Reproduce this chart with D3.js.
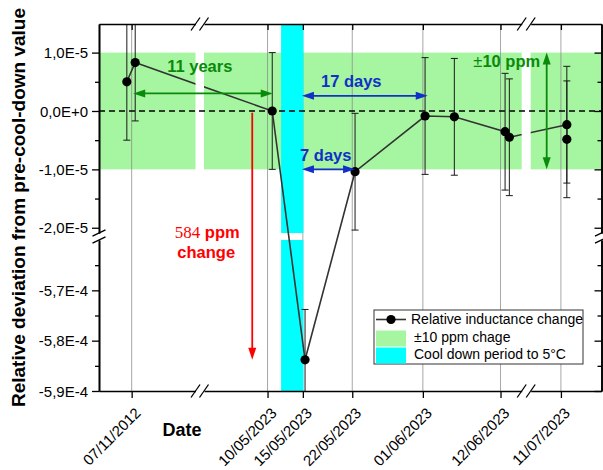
<!DOCTYPE html>
<html><head><meta charset="utf-8">
<script src="https://cdn.jsdelivr.net/npm/d3@7"></script>
<style>
body{margin:0;background:#fff}
svg{display:block;font-family:"Liberation Sans",Arial,sans-serif}
</style>
</head><body>
<svg id="chart" width="603" height="470"></svg>
<script>
// ---------------- DATA ----------------
const pointDates = ["2012-11-06T07:40","2012-11-07T12:00","2023-05-10T16:00","2023-05-15T07:30","2023-05-22T09:30",
                    "2023-06-01T07:30","2023-06-05T11:00","2023-06-12T15:30","2023-06-13T06:00","2023-07-11T20:00","2023-07-11T20:00"];
const pointValues = [0.50e-5, 0.83e-5, 0, -5.838e-4, -1.04e-5, -0.086e-5, -0.10e-5, -0.355e-5, -0.45e-5, -0.235e-5, -0.485e-5];
const pointErrors = [1.0e-5, 1.0e-5, 1.0e-5, 1.0e-5, 1.0e-5, 1.0e-5, 1.0e-5, 1.0e-5, 1.0e-5, 1.0e-5, 1.0e-5];
const xTickLabels = ["07/11/2012","10/05/2023","15/05/2023","22/05/2023","01/06/2023","12/06/2023","11/07/2023"];
const yUpperTicks = [1e-5, 0, -1e-5, -2e-5];
const yUpperTickLabels = ["1,0E-5","0,0E+0","-1,0E-5","-2,0E-5"];
const yUpperMinor = [0.5e-5, -0.5e-5, -1.5e-5];
const yLowerTicks = [-5.7e-4, -5.8e-4, -5.9e-4];
const yLowerTickLabels = ["-5,7E-4","-5,8E-4","-5,9E-4"];
const yLowerMinor = [-5.65e-4, -5.75e-4, -5.85e-4];
const bandLimit = 1.0e-5;                       // ±10 ppm
const coolDown = ["2023-05-11T22:00","2023-05-15T02:00"];
const legendLabels = ["Relative inductance change","\u00b110 ppm chage","Cool down period to 5\u00b0C"];
const xSegDomains = [["2012-11-02T09:30","2012-11-16T00:00"],["2023-05-01T00:00","2023-06-15T00:00"],["2023-07-06T18:00","2023-07-16T17:00"]];
const yUpperDomain = [-2.09e-5, 1.49e-5];
const yLowerDomain = [-5.9e-4, -5.6e-4];

// ---------------- LAYOUT ----------------
const L = 99, R = 601.5, T = 24, B = 391;
const xSegRanges = [[L,195.5],[204,521.7],[530.7,R]];
const yUpperRange = [233, T], yLowerRange = [B, 240];
const GREEN_BAND = "#a6f5a0", CYAN = "#00ffff", DKGREEN = "#0a8a0a", BLUE = "#1030c8", RED = "#ff0000";

const parseISO = d3.isoParse;
const parseDMY = d3.timeParse("%d/%m/%Y");
const svg = d3.select("#chart");

const xSegs = xSegDomains.map((dm,i)=>d3.scaleTime().domain(dm.map(parseISO)).range(xSegRanges[i]));
function segOf(d){ for(const s of xSegs){ const [a,b]=s.domain(); if(d>=a && d<=b) return s; } return xSegs[0]; }
const fx = d => { const dt = (d instanceof Date)? d : parseISO(d); return segOf(dt)(dt); };
const yU = d3.scaleLinear().domain(yUpperDomain).range(yUpperRange);
const yL = d3.scaleLinear().domain(yLowerDomain).range(yLowerRange);
const fy = v => v > -3e-5 ? yU(v) : yL(v);

const points = pointDates.map((d,i)=>({date:parseISO(d), value:pointValues[i], err:pointErrors[i]}));
const tickDates = xTickLabels.map(parseDMY);

// clip paths
const defs = svg.append("defs");
defs.append("clipPath").attr("id","plotclip").append("rect").attr("x",L).attr("y",T).attr("width",R-L).attr("height",B-T);
xSegRanges.forEach((r,i)=>{
  defs.append("clipPath").attr("id","seg"+i).append("rect").attr("x",r[0]).attr("y",T).attr("width",r[1]-r[0]).attr("height",B-T);
});

const plot = svg.append("g").attr("clip-path","url(#plotclip)");

// green ±10 ppm band per x segment
plot.append("g").selectAll("rect").data(xSegs).join("rect")
  .attr("x", s=>s.range()[0]).attr("width", s=>s.range()[1]-s.range()[0])
  .attr("y", yU(bandLimit)).attr("height", yU(-bandLimit)-yU(bandLimit))
  .attr("fill", GREEN_BAND);

// vertical grid lines
plot.append("g").selectAll("line").data(tickDates).join("line")
  .attr("x1", d=>fx(d)).attr("x2", d=>fx(d)).attr("y1", T).attr("y2", B)
  .attr("stroke","#8a8a8a").attr("stroke-opacity",0.75).attr("stroke-width",1);

// cool-down band (upper and lower y segments)
const cx0 = fx(coolDown[0]), cx1 = fx(coolDown[1]);
[[yUpperRange[1], yUpperRange[0]],[yLowerRange[1], yLowerRange[0]]].forEach(([y0,y1])=>{
  plot.append("rect").attr("x",cx0).attr("width",cx1-cx0).attr("y",y0).attr("height",y1-y0).attr("fill",CYAN);
});

// zero dashed reference line
plot.append("line").attr("x1",L).attr("x2",R).attr("y1",yU(0)).attr("y2",yU(0))
  .attr("stroke","#000").attr("stroke-width",1.3).attr("stroke-dasharray","6,4");

// error bars
const eb = plot.append("g").attr("stroke","#1a1a1a").attr("stroke-width",1);
points.forEach(p=>{
  const x = fx(p.date);
  const scale = p.value > -3e-5 ? yU : yL;
  const y1 = scale(p.value + p.err), y2 = scale(p.value - p.err);
  eb.append("line").attr("x1",x).attr("x2",x).attr("y1",y1).attr("y2",y2);
  eb.append("line").attr("x1",x-3.5).attr("x2",x+3.5).attr("y1",y1).attr("y2",y1);
  eb.append("line").attr("x1",x-3.5).attr("x2",x+3.5).attr("y1",y2).attr("y2",y2);
});

// data line, broken at x axis breaks
const lineGen = d3.line().x(p=>fx(p.date)).y(p=>fy(p.value));
xSegRanges.forEach((r,i)=>{
  plot.append("path").datum(points).attr("d",lineGen).attr("fill","none")
    .attr("stroke","#333").attr("stroke-width",1.6).attr("clip-path","url(#seg"+i+")");
});
plot.append("g").selectAll("circle").data(points).join("circle")
  .attr("cx",p=>fx(p.date)).attr("cy",p=>fy(p.value)).attr("r",4.6).attr("fill","#000");

// ---------------- ANNOTATIONS ----------------
function arrow(g,x1,y1,x2,y2,color,both){
  const hl=12, hw=4;
  const dx=x2-x1, dy=y2-y1, len=Math.hypot(dx,dy), ux=dx/len, uy=dy/len, px=-uy, py=ux;
  const sx = both? x1+ux*hl*0.8 : x1, sy = both? y1+uy*hl*0.8 : y1;
  const ex = x2-ux*hl*0.8, ey = y2-uy*hl*0.8;
  g.append("line").attr("x1",sx).attr("y1",sy).attr("x2",ex).attr("y2",ey).attr("stroke",color).attr("stroke-width",1.8);
  const head=(tx,ty,dirx,diry)=>{
    const bx=tx-dirx*hl, by=ty-diry*hl;
    g.append("path").attr("d",`M${tx},${ty}L${bx+px*hw},${by+py*hw}L${bx-px*hw},${by-py*hw}Z`).attr("fill",color);
  };
  head(x2,y2,ux,uy);
  if(both) head(x1,y1,-ux,-uy);
}
const ann = svg.append("g");
// 11 years
arrow(ann, fx(points[1].date)-2, yU(0.3e-5), fx(points[2].date)+0.5, yU(0.3e-5), DKGREEN, true);
ann.append("text").attr("x",(xSegRanges[0][1]+xSegRanges[1][0])/2).attr("y",yU(0.67e-5)).attr("text-anchor","middle")
  .attr("font-size",16.5).attr("font-weight","bold").attr("fill",DKGREEN).text("11 years");
// 17 days
arrow(ann, cx1-1.5, yU(0.26e-5), fx(points[5].date)+2.7, yU(0.26e-5), BLUE, true);
ann.append("text").attr("x",fx("2023-05-22T00:00")-1).attr("y",yU(0.41e-5)).attr("text-anchor","middle")
  .attr("font-size",16.5).attr("font-weight","bold").attr("fill",BLUE).text("17 days");
// 7 days
arrow(ann, cx1-1.5, yU(-1e-5), fx(points[4].date), yU(-1e-5), BLUE, true);
ann.append("text").attr("x",fx("2023-05-18T06:00")).attr("y",yU(-0.86e-5)).attr("text-anchor","middle")
  .attr("font-size",16.5).attr("font-weight","bold").attr("fill",BLUE).text("7 days");
// ±10 ppm
const gx = fx("2023-07-09T00:00");
arrow(ann, gx, yU(bandLimit), gx, yU(-bandLimit), DKGREEN, true);
const tp = ann.append("text").attr("x",gx-6.5).attr("y",yU(0.76e-5)).attr("text-anchor","end").attr("font-size",16.5).attr("fill",DKGREEN);
tp.append("tspan").text("\u00b1");
tp.append("tspan").attr("font-weight","bold").text("10 ppm");
// 584 ppm change
const rx = fx("2023-05-07T20:00");
arrow(ann, rx, yU(-0.03e-5), rx, fy(points[3].value), RED, false);
const rt = ann.append("text").attr("x",rx-45).attr("y",yL(yLowerDomain[1])-2).attr("text-anchor","middle").attr("fill",RED);
rt.append("tspan").attr("font-family","'Liberation Serif','Times New Roman',serif").attr("font-size",17).text("584");
rt.append("tspan").attr("font-size",16.5).attr("font-weight","bold").text(" ppm");
ann.append("text").attr("x",rx-46).attr("y",yL(-5.636e-4)).attr("text-anchor","middle").attr("fill",RED)
  .attr("font-size",16.5).attr("font-weight","bold").text("change");

// ---------------- AXES ----------------
const axes = svg.append("g");
function styleAxis(g){
  g.select(".domain").attr("stroke","#000").attr("stroke-width",1.6);
  g.selectAll(".tick line").attr("stroke","#000").attr("stroke-width",1.3);
  g.selectAll("text").attr("font-family","'Liberation Sans',Arial,sans-serif").attr("font-size",15).attr("fill","#000");
}
xSegs.forEach(s=>{
  const [a,b]=s.domain();
  const tv = tickDates.filter(d=>d>=a && d<=b);
  axes.append("g").attr("transform",`translate(0,${B})`)
    .call(d3.axisBottom(s).tickValues(tv).tickSize(7).tickSizeOuter(0).tickFormat("")).call(styleAxis);
  axes.append("g").attr("transform",`translate(0,${T})`)
    .call(d3.axisTop(s).tickValues(tv).tickSize(-6).tickSizeOuter(0).tickFormat("")).call(styleAxis);
});
// x tick labels rotated
const fmt = d3.timeFormat("%d/%m/%Y");
axes.append("g").selectAll("text").data(tickDates).join("text")
  .attr("transform", d=>`translate(${fx(d)+10},${B+23}) rotate(-45)`)
  .attr("text-anchor","end").attr("font-size",15).text(d=>fmt(d));

[[yU,yUpperTicks,yUpperTickLabels,yUpperMinor],[yL,yLowerTicks,yLowerTickLabels,yLowerMinor]].forEach(([sc,tv,lab,mn])=>{
  axes.append("g").attr("transform",`translate(${L},0)`)
    .call(d3.axisLeft(sc).tickValues(tv).tickSize(7).tickPadding(4).tickSizeOuter(0).tickFormat((d,i)=>lab[i])).call(styleAxis);
  axes.append("g").attr("transform",`translate(${L},0)`)
    .call(d3.axisLeft(sc).tickValues(mn).tickSize(4).tickSizeOuter(0).tickFormat("")).call(styleAxis);
  axes.append("g").attr("transform",`translate(${R},0)`)
    .call(d3.axisRight(sc).tickValues(tv).tickSize(-7).tickSizeOuter(0).tickFormat("")).call(styleAxis);
  axes.append("g").attr("transform",`translate(${R},0)`)
    .call(d3.axisRight(sc).tickValues(mn).tickSize(-4).tickSizeOuter(0).tickFormat("")).call(styleAxis);
});
axes.selectAll(".tick text").attr("dy","0.34em");

// break marks
const brk = axes.append("g").attr("stroke","#000").attr("stroke-width",1.3);
[xSegRanges[0][1], xSegRanges[1][0], xSegRanges[1][1], xSegRanges[2][0]].forEach(x=>{
  [B,T].forEach(y=>brk.append("line").attr("x1",x-4.5).attr("y1",y+6.5).attr("x2",x+4.5).attr("y2",y-6.5));
});
[yUpperRange[0], yLowerRange[1]].forEach(y=>{
  [L,R].forEach(x=>brk.append("line").attr("x1",x-6.5).attr("y1",y+3.2).attr("x2",x+6.5).attr("y2",y-3.2));
});

// axis titles
svg.append("text").attr("transform",`translate(25,${(8+407)/2}) rotate(-90)`).attr("text-anchor","middle")
  .attr("font-size",19).attr("font-weight","bold").text("Relative deviation from pre-cool-down value");
svg.append("text").attr("x",182).attr("y",436).attr("text-anchor","middle")
  .attr("font-size",18).attr("font-weight","bold").text("Date");

// ---------------- LEGEND ----------------
const lg = svg.append("g").attr("transform","translate(374,310)");
lg.append("rect").attr("width",209).attr("height",54).attr("fill","#fff").attr("stroke","#333").attr("stroke-width",1);
lg.append("line").attr("x1",2).attr("x2",32).attr("y1",9.5).attr("y2",9.5).attr("stroke","#333").attr("stroke-width",1.6);
lg.append("circle").attr("cx",17).attr("cy",9.5).attr("r",4.6).attr("fill","#000");
lg.append("rect").attr("x",2).attr("y",20.5).attr("width",30).attr("height",16).attr("fill",GREEN_BAND);
lg.append("rect").attr("x",2).attr("y",37.5).attr("width",30).attr("height",16).attr("fill",CYAN);
lg.selectAll("text.l").data(legendLabels).join("text").attr("class","l")
  .attr("x",(d,i)=>i===0?37:40).attr("y",(d,i)=>[14,31.5,49][i]).attr("font-size",14).text(d=>d);
</script>
</body></html>
